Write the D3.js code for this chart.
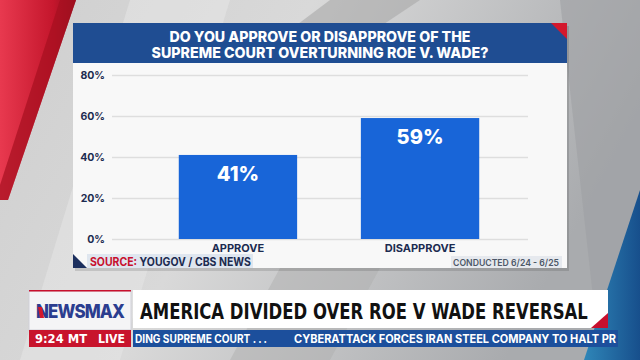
<!DOCTYPE html>
<html>
<head>
<meta charset="utf-8">
<script src="https://cdnjs.cloudflare.com/ajax/libs/d3/7.8.5/d3.min.js"></script>
<style>
  html, body { margin: 0; padding: 0; background: #c4c4c4; }
  svg { display: block; }
  text { font-family: Inter, "Open Sans", sans-serif; }
</style>
</head>
<body>
<div id="chart"></div>
<script>
// Chart data
var categories = ["APPROVE", "DISAPPROVE"];
var values = [41, 59];
var yTicks = [0, 20, 40, 60, 80];
var titleLines = ["DO YOU APPROVE OR DISAPPROVE OF THE", "SUPREME COURT OVERTURNING ROE V. WADE?"];
var sourceLabel = "SOURCE:";
var sourceText = " YOUGOV / CBS NEWS";
var conductedText = "CONDUCTED 6/24 - 6/25";
var headline = "AMERICA DIVIDED OVER ROE V WADE REVERSAL";
var tickerItems = ["DING SUPREME COURT . . .", "CYBERATTACK FORCES IRAN STEEL COMPANY TO HALT PR"];

var svgWidth = 640;
var svgHeight = 360;

// panel box
var panel = { left: 73, right: 567, top: 23, headerBottom: 63, bottom: 268 };

var svg = d3.select("#chart")
  .append("svg")
  .attr("width", svgWidth)
  .attr("height", svgHeight);

var defs = svg.append("defs");

var bgGrad = defs.append("linearGradient")
  .attr("id", "bg")
  .attr("x1", 0).attr("y1", 0).attr("x2", 1).attr("y2", 0.3);
bgGrad.append("stop").attr("offset", "0%").attr("stop-color", "#cfcfcf");
bgGrad.append("stop").attr("offset", "45%").attr("stop-color", "#d9d9d9");
bgGrad.append("stop").attr("offset", "100%").attr("stop-color", "#a9abae");

var redGrad = defs.append("linearGradient")
  .attr("id", "red")
  .attr("x1", 0).attr("y1", 0).attr("x2", 1).attr("y2", 0);
redGrad.append("stop").attr("offset", "0%").attr("stop-color", "#e8394f");
redGrad.append("stop").attr("offset", "70%").attr("stop-color", "#c4162c");
redGrad.append("stop").attr("offset", "100%").attr("stop-color", "#8e0f1f");

var blueGrad = defs.append("linearGradient")
  .attr("id", "blue")
  .attr("x1", 0).attr("y1", 0).attr("x2", 1).attr("y2", 0);
blueGrad.append("stop").attr("offset", "0%").attr("stop-color", "#2f86b8");
blueGrad.append("stop").attr("offset", "100%").attr("stop-color", "#174f8c");

// studio background
svg.append("rect")
  .attr("width", svgWidth)
  .attr("height", svgHeight)
  .attr("fill", "url(#bg)");

// soft diagonal shapes
svg.append("polygon")
  .attr("points", "130,0 230,0 120,360 20,360")
  .attr("fill", "#e4e4e4")
  .attr("opacity", 0.6);
svg.append("polygon")
  .attr("points", "330,0 420,0 330,60 250,60")
  .attr("fill", "#a8a8a8")
  .attr("opacity", 0.6);
svg.append("polygon")
  .attr("points", "280,268 380,268 330,360 230,360")
  .attr("fill", "#b0b0b0")
  .attr("opacity", 0.5);
svg.append("polygon")
  .attr("points", "560,0 640,0 640,360 600,360")
  .attr("fill", "#9ea0a4")
  .attr("opacity", 0.6);

// red slab top left
svg.append("polygon")
  .attr("points", "0,0 76,0 8,200 0,200")
  .attr("fill", "url(#red)");
svg.append("polygon")
  .attr("points", "60,0 76,0 8,200 0,200 0,185")
  .attr("fill", "#a5101f")
  .attr("opacity", 0.7);

// blue slab bottom right
svg.append("polygon")
  .attr("points", "640,190 640,360 584,360")
  .attr("fill", "url(#blue)");

// panel shadow + body
svg.append("rect")
  .attr("x", panel.left + 2)
  .attr("y", panel.top + 3)
  .attr("width", panel.right - panel.left)
  .attr("height", panel.bottom - panel.top)
  .attr("fill", "#000")
  .attr("opacity", 0.12);

svg.append("rect")
  .attr("x", panel.left)
  .attr("y", panel.headerBottom)
  .attr("width", panel.right - panel.left)
  .attr("height", panel.bottom - panel.headerBottom)
  .attr("fill", "#f8f8f8");

// header
svg.append("rect")
  .attr("x", panel.left)
  .attr("y", panel.top)
  .attr("width", panel.right - panel.left)
  .attr("height", panel.headerBottom - panel.top)
  .attr("fill", "#1f4d92");

svg.append("polygon")
  .attr("points", `${panel.right - 16},${panel.top} ${panel.right},${panel.top} ${panel.right},${panel.top + 16}`)
  .attr("fill", "#d3182c");

// title: one text element, two lines
var titleWidths = [301, 337];
var title = svg.append("text")
  .attr("text-anchor", "middle")
  .style("fill", "white")
  .style("font-size", "15px")
  .style("font-weight", 800);

title.selectAll("tspan")
  .data(titleLines)
  .enter()
  .append("tspan")
  .attr("x", (panel.left + panel.right) / 2)
  .attr("y", (d, i) => 42 + i * 15.5)
  .attr("textLength", (d, i) => titleWidths[i])
  .attr("lengthAdjust", "spacingAndGlyphs")
  .text(d => d);

// scales
var yScale = d3.scaleLinear()
  .domain([0, 80])
  .range([239, 75]);

var xScale = d3.scaleBand()
  .domain(categories)
  .range([146, 512])
  .paddingInner(0.35)
  .paddingOuter(0.18);

// grid + y labels
var yAxis = d3.axisLeft(yScale)
  .tickValues(yTicks)
  .tickSize(-(528 - 112))
  .tickPadding(7)
  .tickFormat(d => d + "%");

var yAxisGroup = svg.append("g")
  .attr("transform", "translate(112,0)")
  .call(yAxis);

yAxisGroup.select(".domain").remove();
yAxisGroup.selectAll(".tick line")
  .attr("stroke", "#dedede")
  .attr("stroke-width", 1.5);
yAxisGroup.selectAll(".tick text")
  .style("fill", "#1c2b50")
  .style("font-size", "10.5px")
  .style("font-weight", 700)
  .style("font-family", "Inter, sans-serif");

// bars
var barsGroup = svg.append("g");

barsGroup.selectAll("rect")
  .data(values)
  .enter()
  .append("rect")
  .attr("x", (d, i) => xScale(categories[i]))
  .attr("y", d => yScale(d))
  .attr("width", xScale.bandwidth())
  .attr("height", d => yScale(0) - yScale(d))
  .attr("fill", "#1865d8");

barsGroup.selectAll("text")
  .data(values)
  .enter()
  .append("text")
  .attr("x", (d, i) => xScale(categories[i]) + xScale.bandwidth() / 2)
  .attr("y", d => yScale(d) + 26)
  .attr("text-anchor", "middle")
  .style("fill", "white")
  .style("font-size", "20px")
  .style("font-weight", 800)
  .text(d => d + "%");

// category labels
var xAxis = d3.axisBottom(xScale).tickSize(0).tickPadding(5);
var xAxisGroup = svg.append("g")
  .attr("transform", `translate(0,${yScale(0)})`)
  .call(xAxis);
xAxisGroup.select(".domain").remove();
xAxisGroup.selectAll(".tick text")
  .style("fill", "#1c2b50")
  .style("font-size", "11px")
  .style("font-weight", 700)
  .style("font-family", "Inter, sans-serif");

// source row
svg.append("polygon")
  .attr("points", `${panel.left},${panel.bottom - 14} ${panel.left + 14},${panel.bottom} ${panel.left},${panel.bottom}`)
  .attr("fill", "#1c2f5e");

svg.append("rect")
  .attr("x", 87)
  .attr("y", 254)
  .attr("width", 166)
  .attr("height", 14)
  .attr("fill", "#dfe6ef");

svg.append("rect")
  .attr("x", 451)
  .attr("y", 256)
  .attr("width", 111)
  .attr("height", 12)
  .attr("fill", "#e6e9ee");

var src = svg.append("text")
  .attr("x", 90)
  .attr("y", 265.5)
  .attr("textLength", 161)
  .attr("lengthAdjust", "spacingAndGlyphs")
  .style("font-size", "11.5px")
  .style("font-weight", 700);
src.append("tspan").style("fill", "#c8102e").text(sourceLabel);
src.append("tspan").style("fill", "#1c2b50").text(sourceText);

svg.append("text")
  .attr("x", 559)
  .attr("y", 266)
  .attr("text-anchor", "end")
  .attr("textLength", 106)
  .attr("lengthAdjust", "spacingAndGlyphs")
  .style("fill", "#4d5868")
  .style("font-size", "9.5px")
  .style("font-weight", 600)
  .text(conductedText);

// lower third
svg.append("rect")
  .attr("x", 29).attr("y", 291)
  .attr("width", 102).attr("height", 39)
  .attr("fill", "#f4f4f6")
  .attr("stroke", "#d0d0d8");
svg.append("rect")
  .attr("x", 29).attr("y", 290)
  .attr("width", 102).attr("height", 1.5)
  .attr("fill", "#c8102e");

svg.append("text")
  .attr("x", 36)
  .attr("y", 318)
  .attr("textLength", 88)
  .attr("lengthAdjust", "spacingAndGlyphs")
  .style("fill", "#2b3d8f")
  .style("font-size", "19px")
  .style("font-weight", 800)
  .style("letter-spacing", "-1px")
  .text("NEWSMAX");
svg.append("polygon")
  .attr("points", "38,307 42,307 44,318 40,318")
  .attr("fill", "#d3182c");

svg.append("rect")
  .attr("x", 133).attr("y", 290)
  .attr("width", 475).attr("height", 38)
  .attr("fill", "#ffffff");
svg.append("polygon")
  .attr("points", "608,313 608,328 591,328")
  .attr("fill", "#c8102e");

// headline: squeeze horizontally to 448px so it stays inside the box
var headText = svg.append("text")
  .attr("x", 0)
  .attr("y", 0)
  .style("fill", "#111")
  .style("font-family", "'Liberation Sans Narrow', 'DejaVu Sans Condensed', sans-serif")
  .style("font-size", "21px")
  .style("font-weight", 700)
  .text(headline);
var headW = headText.node().getComputedTextLength();
headText.attr("transform", `translate(140,318.5) scale(${448 / headW},1)`);

// ticker
svg.append("rect")
  .attr("x", 29).attr("y", 330)
  .attr("width", 102).attr("height", 17)
  .attr("fill", "#c8142c");

var liveBits = [["9:24 MT", 35, 52], ["LIVE", 98, 27]];
svg.append("g")
  .selectAll("text")
  .data(liveBits)
  .enter()
  .append("text")
  .attr("x", d => d[1])
  .attr("y", 343)
  .attr("textLength", d => d[2])
  .attr("lengthAdjust", "spacingAndGlyphs")
  .style("fill", "white")
  .style("font-size", "12px")
  .style("font-weight", 700)
  .style("font-family", "'DejaVu Sans', sans-serif")
  .text(d => d[0]);

svg.append("rect")
  .attr("x", 133).attr("y", 330)
  .attr("width", 485).attr("height", 17)
  .attr("fill", "#1c4f9c");

var tickerStarts = [135, 294];
var tickerWidths = [132, 322];
svg.append("g")
  .selectAll("text")
  .data(tickerItems)
  .enter()
  .append("text")
  .attr("x", (d, i) => tickerStarts[i])
  .attr("y", 343)
  .attr("textLength", (d, i) => tickerWidths[i])
  .attr("lengthAdjust", "spacingAndGlyphs")
  .style("fill", "white")
  .style("font-size", "11.5px")
  .style("font-weight", 700)
  .text(d => d);
</script>
</body>
</html>
